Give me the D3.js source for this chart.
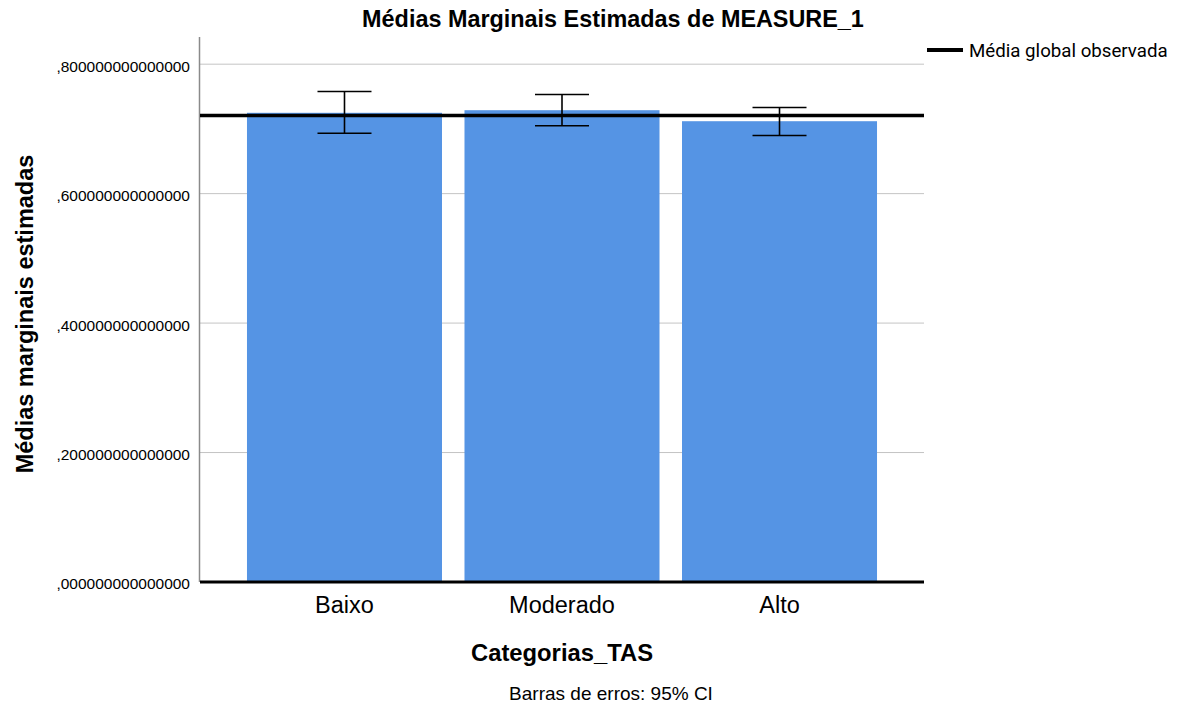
<!DOCTYPE html>
<html>
<head>
<meta charset="utf-8">
<script src="https://cdn.jsdelivr.net/npm/d3@7"></script>
<style>
  html, body { margin: 0; padding: 0; background: #ffffff; }
  svg { display: block; }
  text { font-family: "Liberation Sans", Arial, sans-serif; fill: #000; }
</style>
</head>
<body>
<svg id="chart" width="1186" height="713"></svg>
<script>
// Estimated marginal means of MEASURE_1 by TAS category, with 95% CI
const categories = ["Baixo", "Moderado", "Alto"];
const means      = [0.7249, 0.7289, 0.7119];
const ciLower    = [0.6933, 0.7048, 0.6898];
const ciUpper    = [0.7578, 0.7532, 0.7331];
const globalMean = 0.7207;
const yTicks     = [0, 0.2, 0.4, 0.6, 0.8];
const yMax       = 0.842;

const svg = d3.select("#chart");
const plot = { left: 200, right: 924, top: 37, bottom: 582 };

const x = d3.scaleBand()
  .domain(categories)
  .range([plot.left, plot.right])
  .paddingInner(0.1034)
  .paddingOuter(0.216);

const y = d3.scaleLinear()
  .domain([0, yMax])
  .range([plot.bottom, plot.top]);

// labels with a leading comma and 15 decimals
const fmtTick = v => "," + d3.format(".15f")(v).split(".")[1];

// horizontal gridlines
svg.append("g")
  .selectAll("line")
  .data(yTicks.filter(t => t > 0))
  .join("line")
  .attr("x1", plot.left).attr("x2", plot.right)
  .attr("y1", d => y(d)).attr("y2", d => y(d))
  .attr("stroke", "#c4c4c4").attr("stroke-width", 1);

// y tick labels
const yAxis = d3.axisLeft(y).tickValues(yTicks).tickFormat(fmtTick).tickSize(0).tickPadding(10);
const gy = svg.append("g").attr("transform", `translate(${plot.left},0)`).call(yAxis);
gy.select(".domain").remove();
gy.selectAll("text")
  .style("font-family", "'Liberation Sans', Arial, sans-serif")
  .style("font-size", "15.5px")
  .attr("dy", "0.45em")
  .attr("fill", "#222");

// bars
svg.append("g")
  .selectAll("rect")
  .data(categories)
  .join("rect")
  .attr("x", d => x(d))
  .attr("width", x.bandwidth())
  .attr("y", (d, i) => y(means[i]))
  .attr("height", (d, i) => y(0) - y(means[i]))
  .attr("fill", "#5594e4");

// y axis line
svg.append("line")
  .attr("x1", plot.left - 0.5).attr("x2", plot.left - 0.5)
  .attr("y1", plot.top).attr("y2", plot.bottom)
  .attr("stroke", "#8a8a8a").attr("stroke-width", 1.5);

// zero baseline
svg.append("line")
  .attr("x1", plot.left).attr("x2", plot.right)
  .attr("y1", y(0)).attr("y2", y(0))
  .attr("stroke", "#000").attr("stroke-width", 3);

// observed grand mean reference line
svg.append("line")
  .attr("x1", plot.left).attr("x2", plot.right)
  .attr("y1", y(globalMean)).attr("y2", y(globalMean))
  .attr("stroke", "#000").attr("stroke-width", 3.5);

// 95% CI error bars
const capHalf = 27;
const eb = svg.append("g").attr("stroke", "#000").attr("stroke-width", 1.6);
categories.forEach((c, i) => {
  const cx = x(c) + x.bandwidth() / 2;
  eb.append("line").attr("x1", cx).attr("x2", cx).attr("y1", y(ciUpper[i])).attr("y2", y(ciLower[i]));
  eb.append("line").attr("x1", cx - capHalf).attr("x2", cx + capHalf).attr("y1", y(ciUpper[i])).attr("y2", y(ciUpper[i]));
  eb.append("line").attr("x1", cx - capHalf).attr("x2", cx + capHalf).attr("y1", y(ciLower[i])).attr("y2", y(ciLower[i]));
});

// category labels
svg.append("g")
  .selectAll("text")
  .data(categories)
  .join("text")
  .attr("x", d => x(d) + x.bandwidth() / 2)
  .attr("y", 613)
  .attr("text-anchor", "middle")
  .style("font-size", "23.5px")
  .attr("fill", "#222")
  .text(d => d);

// title
svg.append("text")
  .attr("x", 613).attr("y", 27)
  .attr("text-anchor", "middle")
  .style("font-size", "23.4px").style("font-weight", "bold")
  .text("Médias Marginais Estimadas de MEASURE_1");

// x axis title
svg.append("text")
  .attr("x", 562).attr("y", 661)
  .attr("text-anchor", "middle")
  .style("font-size", "23.8px").style("font-weight", "bold")
  .text("Categorias_TAS");

// y axis title
svg.append("text")
  .attr("transform", "translate(33,314) rotate(-90)")
  .attr("text-anchor", "middle")
  .style("font-size", "23.5px").style("font-weight", "bold")
  .text("Médias marginais estimadas");

// footnote
svg.append("text")
  .attr("x", 611).attr("y", 700)
  .attr("text-anchor", "middle")
  .style("font-size", "19px")
  .attr("fill", "#222")
  .text("Barras de erros: 95% CI");

// legend
const lg = svg.append("g").attr("transform", "translate(927,50)");
lg.append("line").attr("x1", 0).attr("x2", 36).attr("y1", 0).attr("y2", 0)
  .attr("stroke", "#000").attr("stroke-width", 4);
lg.append("text").attr("x", 42).attr("y", 7)
  .style("font-family", "Roboto, 'Liberation Sans', sans-serif")
  .style("font-size", "18.7px")
  .attr("fill", "#222")
  .text("Média global observada");
</script>
</body>
</html>
